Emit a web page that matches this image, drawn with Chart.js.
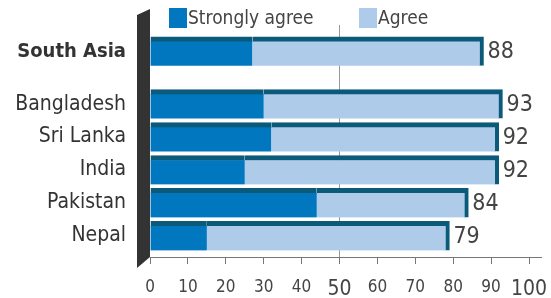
<!DOCTYPE html>
<html>
<head>
<meta charset="utf-8">
<script src="https://cdn.jsdelivr.net/npm/chart.js@4.4.0/dist/chart.umd.min.js"></script>
<style>
  html, body { margin: 0; padding: 0; background: #fff; }
  #wrap { width: 551px; height: 298px; }
</style>
</head>
<body>
<div id="wrap"><canvas id="chart" width="551" height="298"></canvas></div>
<script>
// data
var countries = ["South Asia", "Bangladesh", "Sri Lanka", "India", "Pakistan", "Nepal"];
var totals = [88, 93, 92, 92, 84, 79];
var stronglyAgree = [27, 30, 32, 25, 44, 15];
var xTicks = [0, 10, 20, 30, 40, 50, 60, 70, 80, 90, 100];

var FONT = "'Liberation Sans Narrow', 'DejaVu Sans Condensed', sans-serif";
var darkEdge = "#0b5a79";

// South Asia sits apart from the countries
var rows = countries.map(function(c, i) { return i === 0 ? 0 : i + 0.6; });
var agree = totals.map(function(t, i) { return t - stronglyAgree[i]; });

var extras = {
  id: "extras",
  beforeDatasetsDraw: function(chart) {
    var ctx = chart.ctx, a = chart.chartArea;
    // dark wall on the left
    ctx.save();
    ctx.fillStyle = "#333";
    ctx.beginPath();
    ctx.moveTo(a.left - 13, 15);
    ctx.lineTo(a.left, 9);
    ctx.lineTo(a.left, a.bottom);
    ctx.lineTo(a.left - 13, a.bottom + 11);
    ctx.closePath();
    ctx.fill();
    // bottom axis line
    ctx.strokeStyle = "#777";
    ctx.lineWidth = 1;
    ctx.beginPath();
    ctx.moveTo(a.left, a.bottom + 0.5);
    ctx.lineTo(a.right + 13, a.bottom + 0.5);
    ctx.stroke();
    ctx.restore();
  },
  afterDatasetsDraw: function(chart) {
    var ctx = chart.ctx;
    var xs = chart.scales.x, ys = chart.scales.y;
    ctx.save();
    ctx.fillStyle = "#444";
    ctx.font = "23px " + FONT;
    ctx.textBaseline = "middle";
    ctx.textAlign = "left";
    totals.forEach(function(t, i) {
      ctx.fillText(String(t), xs.getPixelForValue(t) + 4, ys.getPixelForValue(rows[i]) + 1);
    });
    // legend
    var items = [[169, chart.data.datasets[0]], [359, chart.data.datasets[1]]];
    ctx.font = "19px " + FONT;
    items.forEach(function(it) {
      ctx.fillStyle = it[1].backgroundColor;
      ctx.fillRect(it[0], 8, 18, 20);
      ctx.fillStyle = "#444";
      ctx.fillText(it[1].label, it[0] + 19, 19);
    });
    ctx.restore();
  }
};

new Chart(document.getElementById("chart"), {
  type: "bar",
  data: {
    datasets: [{
      label: "Strongly agree",
      data: stronglyAgree.map(function(v, i) { return { x: v, y: rows[i] }; }),
      backgroundColor: "#0077bf",
      borderColor: darkEdge,
      borderWidth: { top: 5, left: 0, right: 0, bottom: 0 },
      borderSkipped: false,
      barThickness: 29
    }, {
      label: "Agree",
      data: agree.map(function(v, i) { return { x: v, y: rows[i] }; }),
      backgroundColor: "#aecbea",
      borderColor: darkEdge,
      borderWidth: { top: 5, left: 0, right: 4, bottom: 0 },
      borderSkipped: false,
      barThickness: 29
    }]
  },
  options: {
    indexAxis: "y",
    responsive: false,
    animation: false,
    layout: { padding: { top: 25, right: 22, left: 0, bottom: 0 } },
    plugins: { legend: { display: false }, tooltip: { enabled: false } },
    scales: {
      x: {
        type: "linear",
        stacked: true,
        min: 0,
        max: 100,
        afterBuildTicks: function(s) { s.ticks = xTicks.map(function(v) { return { value: v }; }); },
        afterFit: function(s) { s.height = 41; s.paddingLeft = 0; s.paddingRight = 0; },
        border: { display: false },
        grid: {
          color: function(c) { return c.tick && c.tick.value === 50 ? "#999" : "rgba(0,0,0,0)"; },
          tickColor: "#777",
          tickLength: 7,
          drawTicks: true
        },
        ticks: {
          padding: 13,
          color: "#444",
          maxRotation: 0,
          autoSkip: false,
          font: function(c) {
            var big = c.tick && (c.tick.value === 50 || c.tick.value === 100);
            return { family: FONT, size: big ? 21 : 17 };
          }
        }
      },
      y: {
        type: "linear",
        stacked: true,
        reverse: true,
        offset: false,
        min: -0.8,
        max: 6.24,
        afterBuildTicks: function(s) { s.ticks = rows.map(function(v) { return { value: v }; }); },
        afterFit: function(s) { s.width = 150; s.paddingTop = 0; s.paddingBottom = 0; },
        border: { display: false },
        grid: { display: false, drawTicks: false, offset: false },
        ticks: {
          padding: 24,
          color: "#333",
          autoSkip: false,
          callback: function(v, i) { return countries[i]; },
          font: function(c) {
            return { family: FONT, size: c.index === 0 ? 20 : 21, weight: c.index === 0 ? "bold" : "normal" };
          }
        }
      }
    }
  },
  plugins: [extras]
});
</script>
</body>
</html>
